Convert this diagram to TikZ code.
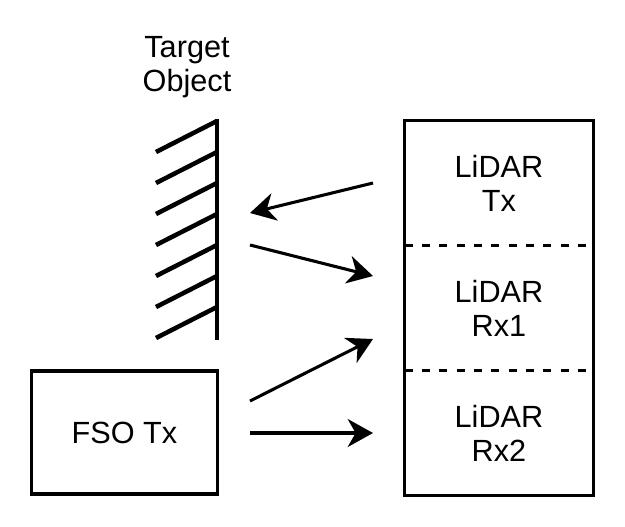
\documentclass[tikz,border=0pt]{standalone}
\usepackage{fontspec}
\setmainfont{Liberation Sans}
\usetikzlibrary{arrows.meta}
\begin{document}
\begin{tikzpicture}[x=0.75pt, y=-0.75pt,
    txt/.style={align=center, font=\fontsize{23pt}{25.5pt}\selectfont, inner sep=0pt},
    section/.style={txt, minimum width=141pt, minimum height=93.75pt},
    beam/.style={line width=2.3pt, -{Stealth[length=19pt, width=21pt, inset=6pt]}}]
    \useasboundingbox (0,0) rectangle (625,526);

    % Мишень
    \node[txt] (target) at (187,67) {Target\\Object};
    \draw[line width=3.4pt] (217,119) -- (217,340);
    \foreach \i in {0,...,6}
        \draw[line width=3.4pt] (217,{121+31*\i}) -- (156,{152+31*\i});

    % Блок LiDAR
    \node[section] (lidartx) at (499,183) {LiDAR\\Tx};
    \node[section] (lidarrx1) at (499,308) {LiDAR\\Rx1};
    \node[section] (lidarrx2) at (499,433) {LiDAR\\Rx2};
    \draw[line width=2.3pt] (lidartx.north west) rectangle (lidarrx2.south east);
    \draw[line width=2.3pt, dash pattern=on 6pt off 7pt] (lidartx.south west) -- (lidartx.south east);
    \draw[line width=2.3pt, dash pattern=on 6pt off 7pt] (lidarrx1.south west) -- (lidarrx1.south east);

    % Передатчик FSO
    \node[txt, draw, line width=2.3pt, minimum width=140pt, minimum height=92.25pt] (fso) at (124.5,432.5) {FSO Tx};

    % Лучи
    \coordinate (txout) at (373,183);
    \coordinate (txhit) at (250,213);
    \coordinate (echo) at (250,245);
    \coordinate (echoin) at (373,276);
    \coordinate (fsoup) at (250,401);
    \coordinate (fsoupin) at (373,339);
    \coordinate (fsoout) at (250,433);
    \coordinate (fsoin) at (373,433);
    \draw[beam] (txout) -- (txhit);
    \draw[beam] (echo) -- (echoin);
    \draw[beam] (fsoup) -- (fsoupin);
    \draw[beam] (fsoout) -- (fsoin);
\end{tikzpicture}
\end{document}
